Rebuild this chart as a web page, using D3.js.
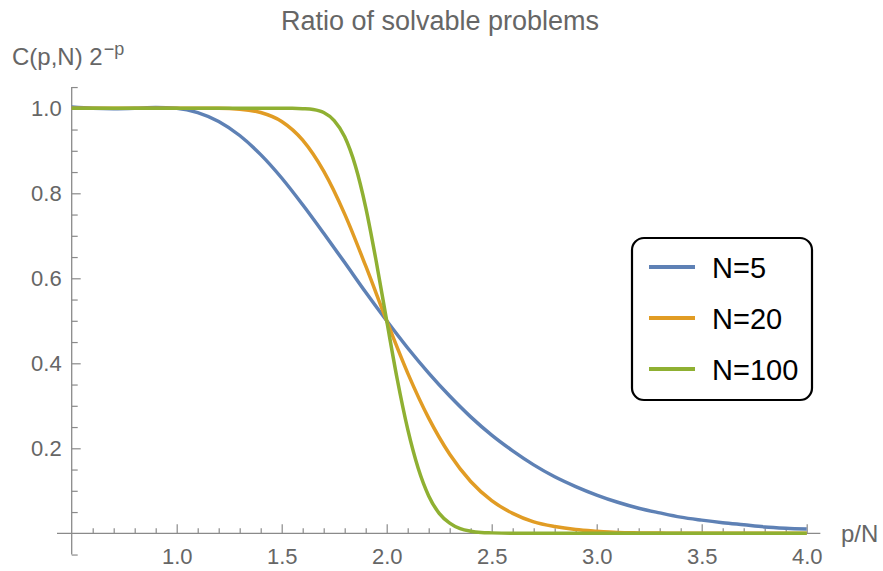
<!DOCTYPE html>
<html>
<head>
<meta charset="utf-8">
<script src="https://cdn.jsdelivr.net/npm/d3@7"></script>
<style>
  body { margin: 0; background: #fff; }
  text { font-family: "Liberation Sans", Arial, sans-serif; }
</style>
</head>
<body>
<div class="svg"></div>
<script>
var svgWidth = 883;
var svgHeight = 571;

// p/N sample points
var xCoarse = [0.5, 0.6, 0.7, 0.8, 0.9, 1.0, 1.1, 1.2, 1.3, 1.4, 1.5, 1.6, 1.7, 1.8, 1.9, 2.0,
  2.1, 2.2, 2.3, 2.4, 2.5, 2.6, 2.7, 2.8, 2.9, 3.0, 3.1, 3.2, 3.3, 3.4, 3.5, 3.6, 3.7, 3.8, 3.9, 4.0];
var xFine = [0.5, 0.7, 0.9, 1.1, 1.3, 1.5, 1.55, 1.6, 1.65, 1.7, 1.75, 1.8, 1.85, 1.9, 1.95, 2.0,
  2.05, 2.1, 2.15, 2.2, 2.25, 2.3, 2.35, 2.4, 2.45, 2.5, 2.6, 2.8, 3.0, 3.3, 3.6, 4.0];

var ratioN5 = [1.003, 1.0, 0.999, 1.0, 1.002, 1.0, 0.990, 0.969, 0.936, 0.891, 0.836, 0.773, 0.706,
  0.637, 0.567, 0.500, 0.436, 0.377, 0.323, 0.274, 0.231, 0.194, 0.161, 0.133, 0.110, 0.090,
  0.073, 0.059, 0.048, 0.038, 0.031, 0.025, 0.020, 0.015, 0.012, 0.010];
var ratioN20 = [1.0, 1.0, 1.0, 1.0, 1.0, 1.0, 1.0, 1.0, 0.998, 0.990, 0.969, 0.925, 0.852,
  0.751, 0.629, 0.500, 0.377, 0.271, 0.186, 0.122, 0.077, 0.047, 0.027, 0.016, 0.009, 0.005,
  0.002, 0.001, 0.0005, 0, 0, 0, 0, 0, 0, 0];
var ratioN100 = [1.0, 1.0, 1.0, 1.0, 1.0, 1.0, 1.0, 0.999, 0.997, 0.990, 0.971, 0.933, 0.866,
  0.767, 0.640, 0.500, 0.363, 0.245, 0.153, 0.088, 0.047, 0.024, 0.011, 0.005, 0.002, 0.001,
  0, 0, 0, 0, 0, 0];

var seriesNames = ["N=5", "N=20", "N=100"];
var seriesColors = ["#5E81B5", "#E19C24", "#8FB032"];

var xMajorTicks = [1.0, 1.5, 2.0, 2.5, 3.0, 3.5, 4.0];
var yMajorTicks = [0.2, 0.4, 0.6, 0.8, 1.0];

var series = [
  { name: seriesNames[0], xs: xCoarse, ys: ratioN5 },
  { name: seriesNames[1], xs: xCoarse, ys: ratioN20 },
  { name: seriesNames[2], xs: xFine, ys: ratioN100 }
];

var svg = d3.select(".svg")
  .append("svg")
  .attr("width", svgWidth)
  .attr("height", svgHeight);

var xScale = d3.scaleLinear().domain([0.5, 4.0]).range([71.7, 806.7]);
var yScale = d3.scaleLinear().domain([0, 1]).range([533.3, 108.3]);

var axisColor = "#8a8a8a";
var labelColor = "#666";

// minor ticks every 0.1 on x and 0.05 on y
var xMinorTicks = d3.range(6, 40).map(function(d) { return d / 10; })
  .filter(function(d) { return Math.abs(d * 2 - Math.round(d * 2)) > 1e-6; });
var yMinorTicks = d3.range(-1, 22).map(function(d) { return d / 20; })
  .filter(function(d) { return d !== 0 && Math.abs(d * 5 - Math.round(d * 5)) > 1e-6; });

var xAxisG = svg.append("g").attr("transform", "translate(0," + yScale(0) + ")");
xAxisG.append("g")
  .call(d3.axisBottom(xScale).tickValues(xMinorTicks).tickSize(-5).tickSizeOuter(0).tickFormat(""));
xAxisG.append("g")
  .call(d3.axisBottom(xScale).tickValues(xMajorTicks).tickSize(-9).tickSizeOuter(0)
    .tickPadding(15).tickFormat(d3.format(".1f")));

var yAxisG = svg.append("g").attr("transform", "translate(" + xScale(0.5) + ",0)");
yAxisG.append("g")
  .call(d3.axisLeft(yScale).tickValues(yMinorTicks).tickSize(-6).tickSizeOuter(0).tickFormat(""));
yAxisG.append("g")
  .call(d3.axisLeft(yScale).tickValues(yMajorTicks).tickSize(-9).tickSizeOuter(0)
    .tickPadding(10).tickFormat(d3.format(".1f")));

svg.selectAll(".domain").remove();
svg.selectAll(".tick line").attr("stroke", axisColor).attr("stroke-width", 1.2);
svg.selectAll(".tick text")
  .attr("fill", labelColor)
  .attr("font-size", 22)
  .style("font-family", "'Liberation Sans', Arial, sans-serif");

// axis lines, a bit longer than the data range like Mathematica
svg.append("line")
  .attr("x1", xScale(0.43)).attr("x2", xScale(4.065))
  .attr("y1", yScale(0)).attr("y2", yScale(0))
  .attr("stroke", axisColor).attr("stroke-width", 1.3);
svg.append("line")
  .attr("x1", xScale(0.5)).attr("x2", xScale(0.5))
  .attr("y1", yScale(1.05)).attr("y2", yScale(-0.05))
  .attr("stroke", axisColor).attr("stroke-width", 1.3);

var line = d3.line()
  .x(function(d) { return xScale(d[0]); })
  .y(function(d) { return yScale(d[1]); })
  .curve(d3.curveMonotoneX);

svg.append("g")
  .selectAll("path")
  .data(series)
  .enter()
  .append("path")
  .attr("d", function(s) {
    return line(s.xs.map(function(x, i) { return [x, s.ys[i]]; }));
  })
  .attr("fill", "none")
  .attr("stroke", function(s, i) { return seriesColors[i]; })
  .attr("stroke-width", 3.5)
  .attr("stroke-linejoin", "round");

svg.append("text")
  .text("Ratio of solvable problems")
  .attr("x", 440)
  .attr("y", 30)
  .attr("text-anchor", "middle")
  .attr("font-size", 27)
  .attr("fill", labelColor);

var yLabel = svg.append("text")
  .attr("x", 12)
  .attr("y", 65)
  .attr("font-size", 24)
  .attr("fill", labelColor);
yLabel.append("tspan").text("C(p,N) 2");
yLabel.append("tspan").text("\u2212p").attr("font-size", 18).attr("dy", -10).attr("dx", 1);

svg.append("text")
  .text("p/N")
  .attr("x", 841)
  .attr("y", 542)
  .attr("font-size", 24)
  .attr("fill", labelColor);

// legend
var legend = svg.append("g").attr("transform", "translate(632,238)");
legend.append("rect")
  .attr("width", 180)
  .attr("height", 162)
  .attr("rx", 12)
  .attr("ry", 12)
  .attr("fill", "#fff")
  .attr("stroke", "#000")
  .attr("stroke-width", 2.2);

var items = legend.selectAll(".item")
  .data(seriesNames)
  .enter()
  .append("g")
  .attr("transform", function(d, i) { return "translate(0," + (29 + i * 51) + ")"; });
items.append("line")
  .attr("x1", 17).attr("x2", 63)
  .attr("stroke", function(d, i) { return seriesColors[i]; })
  .attr("stroke-width", 4);
items.append("text")
  .text(function(d) { return d; })
  .attr("x", 80)
  .attr("y", 11)
  .attr("font-size", 29)
  .attr("fill", "#000");
</script>
</body>
</html>
